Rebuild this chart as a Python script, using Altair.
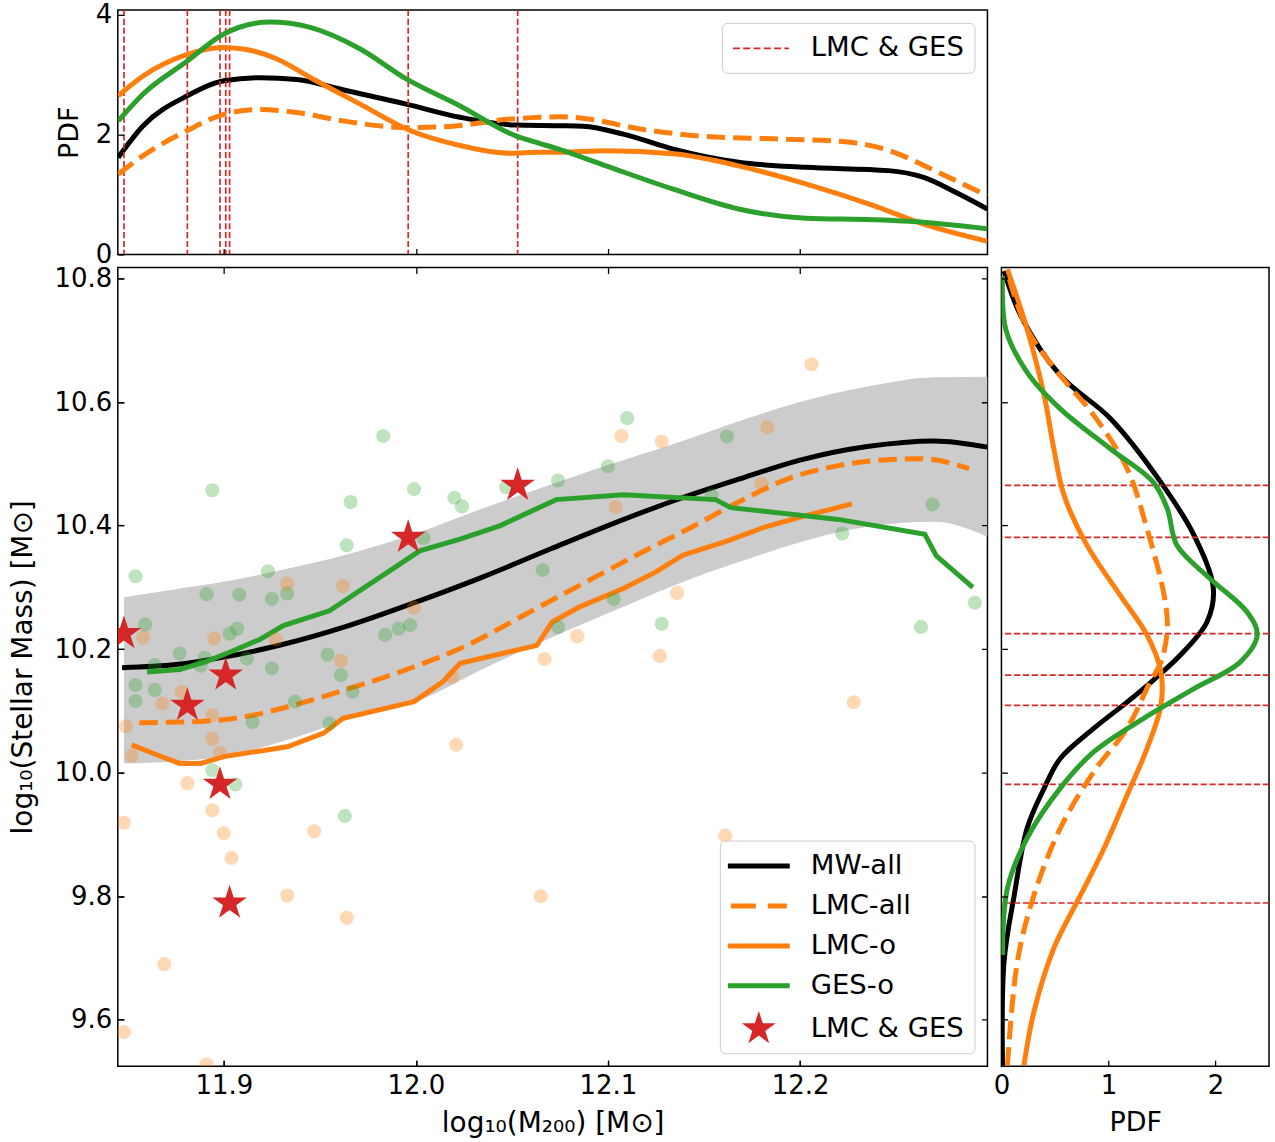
import altair as alt
import pandas as pd

FONT = "DejaVu Sans"
BLACK, ORANGE, GREEN, RED = "#000000", "#ff7f0e", "#2ca02c", "#d62728"

# ---------------- main panel data ----------------
band_x = [11.848, 11.875, 11.900, 11.930, 11.965, 12.000, 12.035, 12.070, 12.100, 12.135, 12.170, 12.200, 12.235, 12.270, 12.2976]
band_hi = [10.284, 10.297, 10.309, 10.328, 10.354, 10.387, 10.428, 10.466, 10.498, 10.533, 10.571, 10.600, 10.625, 10.640, 10.641]
band_lo = [10.015, 10.018, 10.026, 10.050, 10.086, 10.115, 10.168, 10.218, 10.258, 10.304, 10.343, 10.373, 10.398, 10.406, 10.382]

mw_x = [11.847, 11.875, 11.900, 11.930, 11.965, 12.000, 12.035, 12.070, 12.100, 12.135, 12.170, 12.200, 12.235, 12.270, 12.2976]
mw_y = [10.170, 10.175, 10.187, 10.207, 10.238, 10.276, 10.317, 10.362, 10.400, 10.441, 10.477, 10.506, 10.528, 10.537, 10.527]

lmc_all_x = [11.856, 11.888, 11.910, 11.936, 11.962, 11.997, 12.023, 12.064, 12.090, 12.116, 12.142, 12.168, 12.194, 12.220, 12.238, 12.264, 12.288]
lmc_all_y = [10.081, 10.083, 10.090, 10.109, 10.133, 10.169, 10.201, 10.268, 10.311, 10.354, 10.395, 10.438, 10.476, 10.497, 10.505, 10.508, 10.492]

lmc_o_x = [11.852, 11.865, 11.877, 11.888, 11.900, 11.933, 11.952, 11.962, 11.999, 12.014, 12.023, 12.063, 12.071, 12.085, 12.108, 12.125, 12.139, 12.163, 12.182, 12.203, 12.227]
lmc_o_y = [10.045, 10.029, 10.015, 10.015, 10.026, 10.042, 10.064, 10.088, 10.115, 10.147, 10.177, 10.206, 10.244, 10.268, 10.298, 10.325, 10.352, 10.376, 10.398, 10.416, 10.435]

ges_o_x = [11.860, 11.877, 11.890, 11.903, 11.919, 11.931, 11.955, 12.002, 12.023, 12.044, 12.064, 12.073, 12.108, 12.156, 12.164, 12.220, 12.265, 12.271, 12.290]
ges_o_y = [10.163, 10.167, 10.179, 10.195, 10.216, 10.238, 10.262, 10.359, 10.378, 10.400, 10.429, 10.442, 10.450, 10.442, 10.429, 10.410, 10.386, 10.351, 10.300]

ges_pts_x = [11.894, 11.983, 11.966, 11.999, 12.020, 12.024, 11.964, 12.004, 12.047, 12.074, 11.854, 11.923, 11.891,
             11.908, 11.925, 11.933, 12.066, 11.859, 11.903, 11.907, 11.877, 11.890, 11.888, 11.864, 11.912, 11.925,
             11.954, 11.961, 11.984, 11.991, 11.997, 12.074, 11.854, 11.864, 11.854, 11.915, 11.937, 11.967, 11.955,
             11.894, 11.906, 11.963, 12.110, 12.100, 12.162, 12.154, 12.269, 12.222, 12.103, 12.128, 12.263, 12.291]
ges_pts_y = [10.457, 10.545, 10.438, 10.459, 10.445, 10.431, 10.368, 10.380, 10.462, 10.473, 10.318, 10.326, 10.289,
             10.288, 10.281, 10.290, 10.328, 10.240, 10.225, 10.233, 10.193, 10.186, 10.173, 10.174, 10.185, 10.169,
             10.191, 10.158, 10.223, 10.233, 10.239, 10.236, 10.142, 10.134, 10.116, 10.082, 10.115, 10.131, 10.080,
             10.004, 9.981, 9.930, 10.574, 10.496, 10.544, 10.449, 10.434, 10.387, 10.281, 10.241, 10.236, 10.275]

lmc_pts_x = [11.933, 11.962, 11.858, 11.895, 11.927, 11.999, 11.961, 12.067, 12.019, 11.878, 11.868, 11.894, 11.849,
             11.894, 11.898, 11.852, 12.021, 11.881, 11.894, 11.848, 11.900, 11.947, 11.904, 11.933, 11.964, 12.065,
             11.869, 11.848, 11.891, 12.206, 12.107, 12.128, 12.183, 12.104, 12.180, 12.136, 12.084, 12.127, 12.228, 12.161]
lmc_pts_y = [10.306, 10.302, 10.219, 10.217, 10.216, 10.267, 10.181, 10.184, 10.155, 10.131, 10.112, 10.093, 10.075,
             10.055, 10.032, 10.027, 10.045, 9.983, 9.939, 9.919, 9.902, 9.905, 9.862, 9.801, 9.765, 9.800,
             9.690, 9.580, 9.528, 10.661, 10.545, 10.536, 10.559, 10.430, 10.468, 10.291, 10.221, 10.189, 10.114, 9.898]

both_x = [11.848, 11.881, 11.901, 11.898, 11.903, 11.996, 12.053]
both_y = [10.225, 10.109, 10.158, 9.981, 9.789, 10.381, 10.465]

# ---------------- top panel (PDF of halo mass) ----------------
top_mw_x = [11.845, 11.858, 11.881, 11.900, 11.919, 11.938, 11.962, 11.995, 12.023, 12.052, 12.075, 12.087, 12.108, 12.134, 12.168, 12.203, 12.246, 12.264, 12.281, 12.2976]
top_mw_y = [1.62, 2.15, 2.65, 2.90, 2.95, 2.92, 2.75, 2.51, 2.29, 2.16, 2.15, 2.14, 2.01, 1.76, 1.54, 1.455, 1.40, 1.29, 1.04, 0.76]

top_lmc_all_x = [11.845, 11.858, 11.881, 11.900, 11.919, 11.938, 11.962, 11.995, 12.014, 12.049, 12.064, 12.075, 12.090, 12.116, 12.151, 12.186, 12.220, 12.246, 12.272, 12.2976]
top_lmc_all_y = [1.34, 1.65, 2.07, 2.34, 2.42, 2.37, 2.23, 2.12, 2.13, 2.26, 2.29, 2.30, 2.26, 2.10, 1.97, 1.93, 1.89, 1.74, 1.37, 0.98]

top_lmc_o_x = [11.845, 11.858, 11.881, 11.899, 11.910, 11.928, 11.945, 11.971, 11.997, 12.023, 12.049, 12.064, 12.075, 12.099, 12.134, 12.168, 12.203, 12.238, 12.264, 12.2976]
top_lmc_o_y = [2.65, 2.98, 3.34, 3.455, 3.43, 3.26, 2.955, 2.51, 2.07, 1.82, 1.69, 1.705, 1.705, 1.73, 1.68, 1.48, 1.18, 0.82, 0.51, 0.22]

top_ges_x = [11.845, 11.858, 11.881, 11.900, 11.924, 11.945, 11.971, 11.995, 12.023, 12.052, 12.064, 12.075, 12.099, 12.134, 12.168, 12.203, 12.238, 12.264, 12.2976]
top_ges_y = [2.23, 2.68, 3.23, 3.68, 3.88, 3.79, 3.43, 2.93, 2.48, 1.98, 1.86, 1.75, 1.48, 1.09, 0.76, 0.605, 0.58, 0.54, 0.43]

# ---------------- right panel (PDF of stellar mass) ----------------
side_mw_y = [10.812, 10.740, 10.643, 10.573, 10.470, 10.384, 10.298, 10.244, 10.190, 10.150, 10.115, 10.072, 10.023, 9.975, 9.910, 9.802, 9.695, 9.526]
side_mw_pdf = [0.025, 0.18, 0.55, 1.02, 1.49, 1.80, 1.98, 1.92, 1.67, 1.42, 1.18, 0.865, 0.55, 0.40, 0.24, 0.12, 0.025, 0.01]

side_lmc_all_y = [10.810, 10.718, 10.643, 10.578, 10.492, 10.395, 10.287, 10.233, 10.179, 10.147, 10.072, 10.002, 9.910, 9.802, 9.695, 9.526]
side_lmc_all_pdf = [0.056, 0.24, 0.55, 0.865, 1.175, 1.36, 1.52, 1.55, 1.49, 1.39, 1.175, 0.865, 0.55, 0.305, 0.15, 0.056]

side_lmc_o_y = [10.815, 10.718, 10.610, 10.524, 10.449, 10.368, 10.287, 10.223, 10.163, 10.109, 10.039, 9.964, 9.878, 9.802, 9.716, 9.614, 9.526]
side_lmc_o_pdf = [0.056, 0.24, 0.40, 0.49, 0.585, 0.80, 1.11, 1.36, 1.49, 1.49, 1.36, 1.175, 0.96, 0.74, 0.49, 0.305, 0.21]

side_ges_y = [10.804, 10.718, 10.648, 10.589, 10.524, 10.470, 10.427, 10.368, 10.314, 10.260, 10.223, 10.179, 10.136, 10.088, 10.034, 9.975, 9.894, 9.813, 9.705]
side_ges_pdf = [0.01, 0.04, 0.24, 0.55, 1.02, 1.42, 1.55, 1.64, 1.95, 2.295, 2.39, 2.23, 1.80, 1.33, 0.865, 0.55, 0.24, 0.056, 0.01]

series_names = ["MW-all", "LMC-all", "LMC-o", "GES-o", "LMC & GES"]
x_ticks = [11.9, 12.0, 12.1, 12.2]
y_ticks = [9.6, 9.8, 10.0, 10.2, 10.4, 10.6, 10.8]
pdf_top_ticks = [0, 2, 4]
pdf_side_ticks = [0, 1, 2]

# ---------------- styling ----------------
W_MAIN, H_MAIN, W_SIDE, H_TOP = 871, 800, 268, 245
LW = 5
DASH = [18.5, 8]
THIN_DASH = [6.2, 2.7]
TICK = 6
LINE_PATH = "M-2,0H2"
SOLID_SYM = "M-2,-0.16H2V0.16H-2Z"
DASHED_SYM = "M-1.81,-0.16H-0.19V0.16H-1.81Z M0.58,-0.16H1.81V0.16H0.58Z"
STAR_PATH = ("M0,-1.15L-0.258,-0.355L-1.094,-0.355L-0.418,0.136L-0.676,0.930L0,0.439"
             "L0.676,0.930L0.418,0.136L1.094,-0.355L0.258,-0.355Z")

SX = alt.Scale(domain=[11.8448, 12.2976], nice=False, zero=False)
SY = alt.Scale(domain=[9.5248, 10.8178], nice=False, zero=False)
SY_TOP = alt.Scale(domain=[0, 4.083], nice=False, zero=False)
SX_SIDE = alt.Scale(domain=[0, 2.5], nice=False, zero=False)

AX = dict(domain=False, ticks=True, tickSize=TICK, tickWidth=1.3, tickColor="black",
          offset=-TICK, labelFont=FONT, labelFontSize=26, labelColor="black", labelPadding=6,
          labelFlush=False, labelOverlap=False, titleFont=FONT,
          titleFontWeight="normal", titleColor="black", zindex=1)


def mk_axis(orient, values, labels=False, fmt=",", title=None, title_pad=8, title_size=27, mirror_len=None):
    kw = dict(AX)
    if mirror_len:
        # grid line dashed so that only a short inward tick shows at both opposite edges
        kw.update(grid=True, gridColor="black", gridWidth=1.3, gridOpacity=1,
                  gridDash=[TICK, mirror_len - 2 * TICK])
    else:
        kw.update(grid=False)
    return alt.Axis(orient=orient, values=values, labels=labels, format=fmt, title=title,
                    titlePadding=title_pad, titleFontSize=title_size, **kw)


MAIN_XAX = mk_axis("bottom", x_ticks, True, ".1f", "log₁₀(M₂₀₀) [M⊙]", 11, 28, mirror_len=H_MAIN)
MAIN_YAX = mk_axis("left", y_ticks, True, ".1f", "log₁₀(Stellar Mass) [M⊙]", 16.5, 28, mirror_len=W_MAIN)
TOP_XAX = mk_axis("bottom", x_ticks)
TOP_YAX = mk_axis("left", pdf_top_ticks, True, "d", "PDF", 12, 27)
SIDE_XAX = mk_axis("bottom", pdf_side_ticks, True, "d", "PDF", 11, 27)
SIDE_YAX = mk_axis("left", y_ticks)

main_legend = alt.Legend(
    title=None, orient="bottom-right", offset=13,
    labelFont=FONT, labelFontSize=27.5, labelColor="black",
    symbolSize=961, symbolStrokeWidth=0, symbolOffset=13.5, labelOffset=36.5,
    rowPadding=11, padding=10,
    fillColor="rgba(255,255,255,0.85)", strokeColor="#cccccc", cornerRadius=5,
)
fill_scale = alt.Scale(domain=series_names, range=[BLACK, ORANGE, ORANGE, GREEN, RED])
shape_scale = alt.Scale(domain=series_names, range=[SOLID_SYM, DASHED_SYM, SOLID_SYM, SOLID_SYM, STAR_PATH])


def mx():
    return alt.X("x:Q", scale=SX, axis=MAIN_XAX)


def my():
    return alt.Y("y:Q", scale=SY, axis=MAIN_YAX)


def main_line(xv, yv, color, interp, dash=None):
    kw = dict(strokeWidth=LW, color=color, interpolate=interp, clip=True)
    if dash:
        kw["strokeDash"] = dash
    return alt.Chart(pd.DataFrame({"x": xv, "y": yv})).mark_line(**kw).encode(x=mx(), y=my())


band = alt.Chart(pd.DataFrame({"x": band_x, "y": band_lo, "hi": band_hi})).mark_area(
    color="#cccccc", opacity=1, interpolate="monotone", clip=True
).encode(x=mx(), y=my(), y2="hi:Q")

pts_ges = alt.Chart(pd.DataFrame({"x": ges_pts_x, "y": ges_pts_y})).mark_circle(
    size=200, color=GREEN, opacity=0.3, clip=True
).encode(x=mx(), y=my())

pts_lmc = alt.Chart(pd.DataFrame({"x": lmc_pts_x, "y": lmc_pts_y})).mark_circle(
    size=200, color=ORANGE, opacity=0.3, clip=True
).encode(x=mx(), y=my())

stars = alt.Chart(pd.DataFrame({"x": both_x, "y": both_y, "series": "LMC & GES"})).mark_point(
    filled=True, opacity=1, size=1000, clip=True
).encode(
    x=mx(), y=my(),
    fill=alt.Fill("series:N", scale=fill_scale, legend=main_legend),
    shape=alt.Shape("series:N", scale=shape_scale, legend=main_legend),
)

main = alt.layer(
    band,
    main_line(mw_x, mw_y, BLACK, "monotone"),
    main_line(lmc_all_x, lmc_all_y, ORANGE, "monotone", DASH),
    main_line(lmc_o_x, lmc_o_y, ORANGE, "linear"),
    main_line(ges_o_x, ges_o_y, GREEN, "linear"),
    pts_ges, pts_lmc, stars,
).properties(width=W_MAIN, height=H_MAIN)

# ---------------- top panel ----------------
top_legend = alt.Legend(
    title=None, orient="top-right", offset=13,
    labelFont=FONT, labelFontSize=27.5, labelColor="black", labelOffset=35,
    symbolType=LINE_PATH, symbolSize=784, symbolStrokeWidth=1.7, symbolDash=[7, 3.3], symbolOffset=13.6,
    padding=10.5, fillColor="rgba(255,255,255,0.85)", strokeColor="#cccccc", cornerRadius=5,
)

top_rules = alt.Chart(pd.DataFrame({"x": both_x, "lab": "LMC & GES"})).mark_rule(
    strokeWidth=1.7, strokeDash=THIN_DASH, clip=True
).encode(
    x=alt.X("x:Q", scale=SX, axis=TOP_XAX),
    stroke=alt.Stroke("lab:N", scale=alt.Scale(domain=["LMC & GES"], range=[RED]), legend=top_legend),
)


def top_line(xv, yv, color, dash=None):
    kw = dict(strokeWidth=LW, color=color, interpolate="monotone", clip=True)
    if dash:
        kw["strokeDash"] = dash
    return alt.Chart(pd.DataFrame({"x": xv, "y": yv})).mark_line(**kw).encode(
        x=alt.X("x:Q", scale=SX, axis=TOP_XAX), y=alt.Y("y:Q", scale=SY_TOP, axis=TOP_YAX))


top = alt.layer(
    top_line(top_mw_x, top_mw_y, BLACK),
    top_rules,
    top_line(top_lmc_all_x, top_lmc_all_y, ORANGE, DASH),
    top_line(top_lmc_o_x, top_lmc_o_y, ORANGE),
    top_line(top_ges_x, top_ges_y, GREEN),
).properties(width=W_MAIN, height=H_TOP)

# ---------------- right panel ----------------
side_rules = alt.Chart(pd.DataFrame({"m": both_y})).mark_rule(
    strokeWidth=1.7, strokeDash=THIN_DASH, color=RED, clip=True
).encode(y=alt.Y("m:Q", scale=SY, axis=SIDE_YAX))


def side_line(yv, pv, color, dash=None):
    kw = dict(strokeWidth=LW, color=color, interpolate="catmull-rom", clip=True)
    if dash:
        kw["strokeDash"] = dash
    return alt.Chart(pd.DataFrame({"m": yv, "p": pv})).mark_line(**kw).encode(
        x=alt.X("p:Q", scale=SX_SIDE, axis=SIDE_XAX),
        y=alt.Y("m:Q", scale=SY, axis=SIDE_YAX),
        order=alt.Order("m:Q"))


side = alt.layer(
    side_line(side_mw_y, side_mw_pdf, BLACK),
    side_rules,
    side_line(side_lmc_all_y, side_lmc_all_pdf, ORANGE, DASH),
    side_line(side_lmc_o_y, side_lmc_o_pdf, ORANGE),
    side_line(side_ges_y, side_ges_pdf, GREEN),
).properties(width=W_SIDE, height=H_MAIN)

RES = dict(x="independent", y="independent", stroke="independent", fill="independent", shape="independent")

bottom_row = alt.hconcat(main, side, spacing=14, bounds="flush").resolve_scale(**RES)

chart = alt.vconcat(top, bottom_row, spacing=13, bounds="flush").resolve_scale(**RES).properties(
    padding={"left": 8, "right": 5, "top": 0, "bottom": 4}
).configure(font=FONT).configure_view(stroke="black", strokeWidth=1.5)

chart.save("out.html", embed_options={"renderer": "svg", "actions": False})
